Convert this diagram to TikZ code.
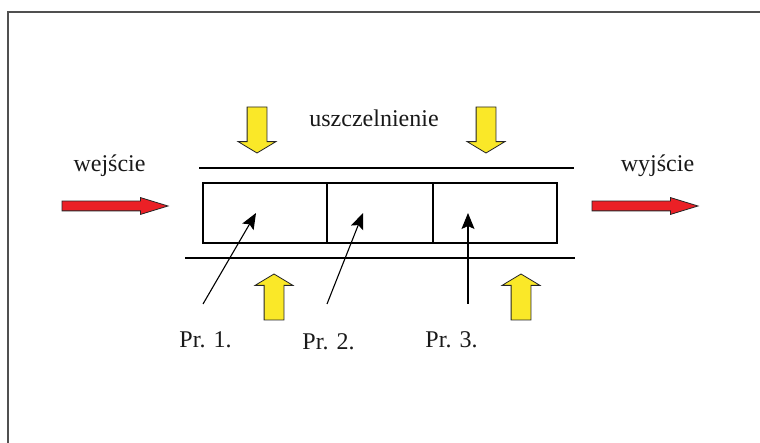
\documentclass[tikz,border=0pt]{standalone}
\usepackage{fontspec}
\setmainfont{Liberation Serif}
\usetikzlibrary{arrows.meta, positioning, shapes.arrows}
\definecolor{flowred}{RGB}{235,32,38}
\definecolor{sealyellow}{RGB}{250,232,40}
\definecolor{framegray}{RGB}{80,80,80}

\begin{document}
\begin{tikzpicture}[
  x=1pt, y=-1pt,
  label/.style={font=\fontsize{24}{28}\selectfont, inner sep=0pt, anchor=base, text=black!90},
  cell/.style={rectangle, draw, line width=1.3pt, minimum width=#1, minimum height=60pt, inner sep=0pt, outer sep=0pt},
  flowarrow/.style={single arrow, draw=black!85, line width=0.8pt, fill=flowred,
    inner sep=4.5pt, outer sep=0pt, single arrow head extend=3.5pt,
    single arrow tip angle=34, minimum height=106pt},
  sealarrow/.style={single arrow, draw=black!85, line width=0.8pt, fill=sealyellow,
    inner sep=9.5pt, outer sep=0pt, single arrow head extend=9pt,
    single arrow tip angle=118, minimum height=46pt},
  pointer/.style={-{Stealth[length=16pt, width=13pt, inset=3pt]}, line width=1.1pt},
  seal/.style={line width=1.3pt},
]
\useasboundingbox (0,0) rectangle (760,443);

% ---- Frame ----
\draw[framegray, line width=1.3pt] (8,443) -- (8,12) -- (760,12);

% ---- Cells ----
\node[cell=124pt, anchor=north west] (cell1) at (203,183) {};
\node[cell=106pt, right=0pt of cell1] (cell2) {};
\node[cell=124pt, right=0pt of cell2] (cell3) {};

% Seal lines
\draw[seal] (199,168) -- (574,168);
\draw[seal] (185,258) -- (575,258);

% ---- Flow in / out ----
\node[flowarrow, anchor=tail] (inflow) at (62,206) {};
\node[flowarrow, anchor=tail] (outflow) at (592,206) {};
\node[label] (in) at (109.5,172) {wejście};
\node[label] (out) at (657.5,172) {wyjście};

% ---- Sealing arrows ----
\node[sealarrow, shape border rotate=270, anchor=tail] (sealtl) at (257,107) {};
\node[sealarrow, shape border rotate=270, anchor=tail] (sealtr) at (486,107) {};
\node[sealarrow, shape border rotate=90, anchor=tail] (sealbl) at (274,320) {};
\node[sealarrow, shape border rotate=90, anchor=tail] (sealbr) at (521,320) {};
\node[label] (seal) at (374,127) {uszczelnienie};

% ---- Sampling points ----
\coordinate (s1) at (203,304);
\coordinate (s2) at (327,304);
\coordinate (s3) at (468,304);
\coordinate (t1) at (256,213);
\coordinate (t2) at (363,213);
\coordinate (t3) at (468,213);
\draw[pointer] (s1) -- (t1);
\draw[pointer] (s2) -- (t2);
\draw[pointer] (s3) -- (t3);

\node[label] (pr1) at (205.5,348) {Pr. 1.};
\node[label] (pr2) at (328.5,349) {Pr. 2.};
\node[label] (pr3) at (451.5,348) {Pr. 3.};

\end{tikzpicture}
\end{document}
